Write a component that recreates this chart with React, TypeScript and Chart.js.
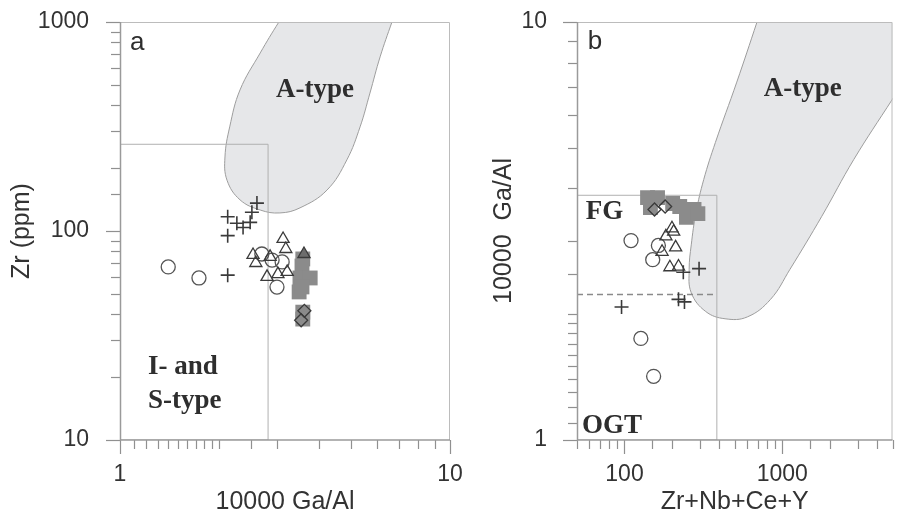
import React, { useEffect, useRef } from "react";
import { Chart, registerables } from "chart.js";

Chart.register(...registerables);

const SANS = "'Liberation Sans', Arial, sans-serif";
const SERIF = "'Liberation Serif', 'Times New Roman', serif";

// ---------------- Panel a : Zr (ppm) vs 10000 Ga/Al ----------------
const aXTitle = "10000 Ga/Al";
const aYTitle = "Zr (ppm)";
const aXRange = [1, 10];
const aYRange = [10, 1000];

const aATypeX = [3.21, 3.03, 2.66, 2.31, 2.15, 2.08, 2.11, 2.31, 2.66, 3.05, 3.51, 4.24, 4.87, 5.34, 5.72, 6.14, 6.67, 6.88];
const aATypeY = [1140, 1000, 711, 473, 315, 226, 175, 141, 126, 122, 129, 157, 219, 315, 457, 681, 1000, 1140];

const aISBoxX = [1, 2.81, 2.81, 1, 1];
const aISBoxY = [10, 10, 260, 260, 10];

const aPlusX = [2.12, 2.26, 2.36, 2.48, 2.51, 2.6, 2.12, 2.12];
const aPlusY = [117, 109, 104, 110, 123, 136, 95, 61.5];

const aCircleX = [1.4, 1.735, 2.69, 2.89, 3.1, 2.99];
const aCircleY = [67.3, 59.6, 77.6, 72.6, 71.1, 53.9];

const aTriX = [2.53, 2.58, 2.85, 3.12, 3.18, 2.79, 3.01, 3.21];
const aTriY = [76.8, 70.3, 75.2, 91.6, 82.0, 60.3, 62.2, 63.7];

const aTriFillX = [3.61];
const aTriFillY = [77.6];

const aSquareX = [3.58, 3.56, 3.51, 3.77, 3.49, 3.56, 3.58, 3.58];
const aSquareY = [73.5, 68.0, 59.6, 59.6, 51.1, 54.0, 40.9, 37.9];

const aDiamondX = [3.62, 3.54];
const aDiamondY = [41.5, 37.4];

const aNoteText = ["a", "A-type", "I- and", "S-type"];
const aNoteX = [1.072, 2.97, 1.216, 1.216];
const aNoteY = [735, 438, 20.7, 14.2];
const aNoteSerif = [false, true, true, true];

// ---------------- Panel b : 10000 Ga/Al vs Zr+Nb+Ce+Y ----------------
const bXTitle = "Zr+Nb+Ce+Y";
const bYTitle = "10000  Ga/Al";
const bXRange = [50, 5000];
const bYRange = [1, 10];

const bATypeX = [774, 692, 515, 377, 318, 284, 265, 257, 265, 327, 434, 601, 843, 1119, 1782, 2843, 5000, 12900];
const bATypeY = [11.4, 10, 7.18, 5.15, 4.2, 3.5, 2.93, 2.56, 2.25, 2.03, 1.95, 1.97, 2.17, 2.56, 3.43, 4.69, 6.54, 11.4];

const bFGBoxX = [50, 385, 385, 50, 50];
const bFGBoxY = [1, 1, 3.85, 3.85, 1];

const bDashX = [50, 385];
const bDashY = [2.23, 2.23];

const bPlusX = [95.8, 220, 240, 236, 297];
const bPlusY = [2.08, 2.17, 2.14, 2.52, 2.57];

const bCircleX = [110, 164, 151, 127, 153];
const bCircleY = [3.0, 2.92, 2.7, 1.75, 1.42];

const bTriX = [200, 205, 183, 173, 211, 194, 220];
const bTriY = [3.21, 3.15, 3.07, 2.82, 2.89, 2.59, 2.6];

const bSquareX = [140, 162, 146, 202, 224, 276, 247, 292];
const bSquareY = [3.8, 3.8, 3.6, 3.68, 3.62, 3.56, 3.41, 3.48];

const bDiamondX = [155, 181];
const bDiamondY = [3.56, 3.62];

const bNoteText = ["b", "A-type", "FG", "OGT"];
const bNoteX = [58.4, 764, 56.8, 53.7];
const bNoteY = [8.62, 6.64, 3.37, 1.039];
const bNoteSerif = [false, true, true, true];

// ---------------- helpers ----------------
const zip = (xs: number[], ys: number[]) => xs.map((x, i) => ({ x, y: ys[i] }));
const isDecade = (v: number) => Math.abs(Math.log10(v) - Math.round(Math.log10(v))) < 1e-6;

function shapeDS(xs: number[], ys: number[], opts: any) {
  return {
    type: "line",
    data: zip(xs, ys),
    showLine: true,
    pointRadius: 0,
    pointHoverRadius: 0,
    borderWidth: 1,
    tension: 0,
    fill: false,
    clip: 0,
    ...opts,
  };
}

function markerDS(xs: number[], ys: number[], style: string, radius: number, bg: string, border: string, bw: number, order: number) {
  return {
    type: "scatter",
    data: zip(xs, ys),
    showLine: false,
    pointStyle: style,
    pointRadius: radius,
    pointHoverRadius: radius,
    pointBackgroundColor: bg,
    pointBorderColor: border,
    pointBorderWidth: bw,
    backgroundColor: bg,
    borderColor: border,
    order,
  };
}

const SQ = "#8b8b8b";
const DARK = "#3a3a3a";

function decorPlugin(texts: string[], xs: number[], ys: number[], serif: boolean[]) {
  return {
    id: "decor",
    afterDatasetsDraw(chart: any) {
      const { ctx, chartArea: ca, scales } = chart;
      const sx = scales.x;
      const sy = scales.y;
      ctx.save();
      // annotations
      texts.forEach((t, i) => {
        ctx.font = serif[i] ? `bold 27px ${SERIF}` : `26px ${SANS}`;
        ctx.fillStyle = "#2e2e2e";
        ctx.textAlign = "left";
        ctx.textBaseline = "alphabetic";
        ctx.fillText(t, sx.getPixelForValue(xs[i]), sy.getPixelForValue(ys[i]));
      });
      // frame (top and right)
      ctx.strokeStyle = "#bcbcbc";
      ctx.lineWidth = 1;
      ctx.beginPath();
      ctx.moveTo(ca.left, ca.top + 0.5);
      ctx.lineTo(ca.right - 0.5, ca.top + 0.5);
      ctx.lineTo(ca.right - 0.5, ca.bottom);
      ctx.stroke();
      // tick marks
      ctx.strokeStyle = "#909090";
      ctx.lineWidth = 1.2;
      for (const t of sx.ticks) {
        const px = Math.round(sx.getPixelForValue(t.value)) + 0.5;
        const L = isDecade(t.value) ? 14 : 9;
        ctx.beginPath();
        ctx.moveTo(px, ca.bottom);
        ctx.lineTo(px, ca.bottom + L);
        ctx.stroke();
      }
      for (const t of sy.ticks) {
        const py = Math.round(sy.getPixelForValue(t.value)) + 0.5;
        const L = isDecade(t.value) ? 14 : 9;
        ctx.beginPath();
        ctx.moveTo(ca.left, py);
        ctx.lineTo(ca.left - L, py);
        ctx.stroke();
      }
      // axis lines
      ctx.strokeStyle = "#9a9a9a";
      ctx.lineWidth = 1.5;
      ctx.beginPath();
      ctx.moveTo(ca.left + 0.5, ca.top);
      ctx.lineTo(ca.left + 0.5, ca.bottom);
      ctx.lineTo(ca.right, ca.bottom);
      ctx.stroke();
      ctx.restore();
    },
  };
}

type Spec = {
  xRange: number[];
  yRange: number[];
  xTitle: string;
  yTitle: string;
  yAxisWidth: number;
  yTickPad: number;
  yTitlePad: number;
  padRight: number;
  datasets: any[];
  plugin: any;
};

function buildConfig(s: Spec): any {
  return {
    type: "scatter",
    data: { datasets: s.datasets },
    options: {
      animation: false,
      responsive: false,
      maintainAspectRatio: false,
      devicePixelRatio: 1,
      events: [],
      layout: { padding: { left: 0, right: s.padRight, top: 22, bottom: 0 } },
      plugins: { legend: { display: false }, tooltip: { enabled: false } },
      scales: {
        x: {
          type: "logarithmic",
          position: "bottom",
          min: s.xRange[0],
          max: s.xRange[1],
          grid: { display: false },
          border: { display: false },
          ticks: {
            autoSkip: false,
            maxRotation: 0,
            minRotation: 0,
            padding: 13,
            color: "#333",
            font: { family: SANS, size: 23 },
            callback: (v: number) => (isDecade(v) ? String(v) : ""),
          },
          title: {
            display: true,
            text: s.xTitle,
            color: "#333",
            font: { family: SANS, size: 25, lineHeight: 1 },
            padding: { top: 0, bottom: 1.5 },
          },
          afterFit: (sc: any) => {
            sc.height = 76;
            sc.paddingLeft = 0;
            sc.paddingRight = 0;
          },
        },
        y: {
          type: "logarithmic",
          position: "left",
          min: s.yRange[0],
          max: s.yRange[1],
          grid: { display: false },
          border: { display: false },
          ticks: {
            autoSkip: false,
            padding: s.yTickPad,
            color: "#333",
            font: { family: SANS, size: 23 },
            callback: (v: number) => (isDecade(v) ? String(v) : ""),
          },
          title: {
            display: true,
            text: s.yTitle,
            color: "#333",
            font: { family: SANS, size: 25, lineHeight: 1 },
            padding: { top: s.yTitlePad, bottom: 0 },
          },
          afterFit: (sc: any) => {
            sc.width = s.yAxisWidth;
            sc.paddingTop = 0;
            sc.paddingBottom = 0;
          },
        },
      },
    },
    plugins: [s.plugin],
  };
}

const specA: Spec = {
  xRange: aXRange,
  yRange: aYRange,
  xTitle: aXTitle,
  yTitle: aYTitle,
  yAxisWidth: 120,
  yTickPad: 23,
  yTitlePad: 9.5,
  padRight: 22,
  plugin: decorPlugin(aNoteText, aNoteX, aNoteY, aNoteSerif),
  datasets: [
    shapeDS(aATypeX, aATypeY, { tension: 0.4, fill: "shape", backgroundColor: "#e6e7e9", borderColor: "#9d9d9d", order: 20 }),
    shapeDS(aISBoxX, aISBoxY, { borderColor: "#b0b0b0", order: 19 }),
    markerDS(aSquareX, aSquareY, "rect", 10.5, SQ, SQ, 0, 8),
    markerDS(aTriFillX, aTriFillY, "triangle", 7, "#6d6d6d", DARK, 1.3, 3),
    markerDS(aCircleX, aCircleY, "circle", 7, "rgba(255,255,255,0)", "#555", 1.3, 5),
    markerDS(aTriX, aTriY, "triangle", 7, "rgba(255,255,255,0)", DARK, 1.3, 4),
    markerDS(aPlusX, aPlusY, "cross", 7, DARK, DARK, 1.6, 2),
    markerDS(aDiamondX, aDiamondY, "rectRot", 6.5, "rgba(255,255,255,0)", DARK, 1.3, 1),
  ],
};

const specB: Spec = {
  xRange: bXRange,
  yRange: bYRange,
  xTitle: bXTitle,
  yTitle: bYTitle,
  yAxisWidth: 117,
  yTickPad: 22,
  yTitlePad: 31.5,
  padRight: 0,
  plugin: decorPlugin(bNoteText, bNoteX, bNoteY, bNoteSerif),
  datasets: [
    shapeDS(bATypeX, bATypeY, { tension: 0.4, fill: "shape", backgroundColor: "#e6e7e9", borderColor: "#9d9d9d", order: 20 }),
    shapeDS(bFGBoxX, bFGBoxY, { borderColor: "#b0b0b0", order: 19 }),
    shapeDS(bDashX, bDashY, { borderColor: "#8a8a8a", borderWidth: 1.5, borderDash: [6, 4], order: 18 }),
    markerDS(bSquareX, bSquareY, "rect", 10.5, SQ, SQ, 0, 8),
    markerDS(bCircleX, bCircleY, "circle", 7, "rgba(255,255,255,0)", "#555", 1.3, 5),
    markerDS(bTriX, bTriY, "triangle", 7, "rgba(255,255,255,0)", DARK, 1.3, 4),
    markerDS(bPlusX, bPlusY, "cross", 7, DARK, DARK, 1.6, 2),
    markerDS(bDiamondX, bDiamondY, "rectRot", 6.5, "rgba(255,255,255,0)", DARK, 1.3, 1),
  ],
};

function Panel({ spec, left, width }: { spec: Spec; left: number; width: number }) {
  const ref = useRef<HTMLCanvasElement | null>(null);
  useEffect(() => {
    if (!ref.current) return;
    const chart = new Chart(ref.current, buildConfig(spec));
    return () => chart.destroy();
  }, [spec]);
  return (
    <canvas
      ref={ref}
      width={width}
      height={516}
      style={{ position: "absolute", left, top: 0, width, height: 516, display: "block" }}
    />
  );
}

export default function App() {
  return (
    <div
      style={{
        position: "fixed",
        left: 0,
        top: 0,
        width: 903,
        height: 516,
        background: "#ffffff",
        overflow: "hidden",
      }}
    >
      <Panel spec={specA} left={0} width={472} />
      <Panel spec={specB} left={460} width={443} />
    </div>
  );
}
